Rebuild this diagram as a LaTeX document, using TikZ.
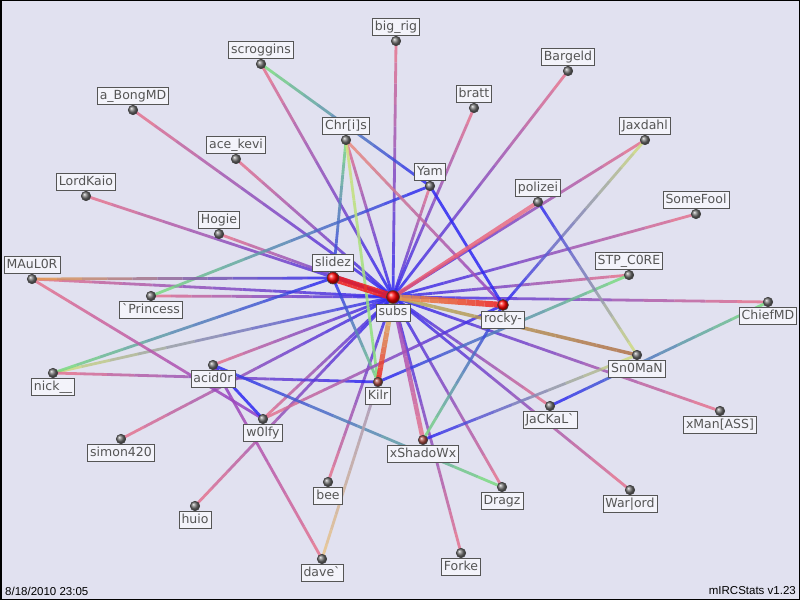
\documentclass[tikz,border=0pt]{standalone}
\usepackage{fontspec}
\setmainfont{DejaVu Sans}
\newfontfamily\piedfont{Liberation Sans}
\usetikzlibrary{calc,positioning}

\definecolor{fond}{HTML}{E1E1F0}
\definecolor{rose}{HTML}{E8758C}
\definecolor{bleu}{HTML}{2E28F2}
\definecolor{violet}{HTML}{8A3CC8}
\definecolor{vert}{HTML}{7DE07D}
\definecolor{jaune}{HTML}{D4E07C}
\definecolor{rouge}{HTML}{EE1C1C}
\definecolor{orangec}{HTML}{E8A050}
\definecolor{saumon}{HTML}{EC8C7C}
\definecolor{brun}{HTML}{B07048}
\definecolor{peche}{HTML}{EAC58A}
\definecolor{mauve}{HTML}{A090B8}
\definecolor{olive}{HTML}{B8B060}
\definecolor{roserouge}{HTML}{EC5068}
\definecolor{brique}{HTML}{A84A42}
\definecolor{gristxt}{HTML}{555555}
\definecolor{cadre}{HTML}{F3F3FA}

% lien en degrade : [epaisseur]{de}{vers}{couleur de}{couleur vers}
\newcommand{\lien}[5][2.8pt]{%
  \foreach \k in {0,...,11}{%
    \pgfmathtruncatemacro{\pc}{round(100-(\k+0.5)*100/12)}%
    \draw[line width=#1, draw opacity=.85, color=#4!\pc!#5]
      ($(#2)!\k/12!(#3)$) -- ($(#2)!{(\k+1)/12}!(#3)$);
  }}

\begin{document}
\begin{tikzpicture}[x=1pt, y=1pt,
    etiq/.style={draw=gristxt, line width=0.8pt, fill=cadre, text=gristxt,
      font=\fontsize{12.5}{13}\selectfont, inner xsep=2.5pt, inner ysep=2.2pt,
      text height=9.5pt, text depth=3pt},
    gris/.style={circle, draw=black!75, line width=0.6pt, ball color=black!55,
      inner sep=0pt, minimum size=9.5pt, label distance=4.5pt},
    chef/.style={gris, ball color=red, minimum size=12pt, label distance=3.5pt},
    brunpt/.style={gris, ball color=brique},
    pied/.style={font=\piedfont\fontsize{11.5}{12}\selectfont, inner sep=0pt}]

        % Fond et cadre
        \fill[fond] (0,0) rectangle (800,600);
        \draw[line width=1.5pt] (0.75,0.75) rectangle (799.25,599.25);
        \useasboundingbox (0,0) rectangle (800,600);

        % Positions
        \coordinate (big_rig) at (396,559);
        \coordinate (scroggins) at (261,536);
        \coordinate (a_BongMD) at (133,490);
        \coordinate (ace_kevi) at (236,441);
        \coordinate (LordKaio) at (86,404);
        \coordinate (Hogie) at (219,366);
        \coordinate (MAuL0R) at (32,321);
        \coordinate (Princess) at (151,304);
        \coordinate (nick) at (53,227);
        \coordinate (acid0r) at (213,235);
        \coordinate (w0lfy) at (263,181);
        \coordinate (simon420) at (121,161);
        \coordinate (huio) at (195,94);
        \coordinate (bee) at (328,118);
        \coordinate (dave) at (322,41);
        \coordinate (Forke) at (461,47);
        \coordinate (Dragz) at (502,113);
        \coordinate (Warlord) at (630,110);
        \coordinate (xMan) at (720,189);
        \coordinate (JaCKaL) at (550,194);
        \coordinate (Sn0MaN) at (637,245);
        \coordinate (ChiefMD) at (768,298);
        \coordinate (STP_C0RE) at (629,325);
        \coordinate (SomeFool) at (696,386);
        \coordinate (polizei) at (538,398);
        \coordinate (Jaxdahl) at (645,460);
        \coordinate (Bargeld) at (568,529);
        \coordinate (bratt) at (474,492);
        \coordinate (Yam) at (430,414);
        \coordinate (Chris) at (346,460);
        \coordinate (slidez) at (333,322);
        \coordinate (subs) at (393,303);
        \coordinate (rocky) at (503,295);
        \coordinate (Kilr) at (378,218);
        \coordinate (xShadoWx) at (423,160);

        % Liens vers subs
        \lien{big_rig}{subs}{rose}{bleu}
        \lien{scroggins}{subs}{rose}{bleu}
        \lien{a_BongMD}{subs}{rose}{bleu}
        \lien{ace_kevi}{subs}{rose}{bleu}
        \lien{LordKaio}{subs}{rose}{bleu}
        \lien{Hogie}{subs}{rose}{bleu}
        \lien{MAuL0R}{subs}{rose}{bleu}
        \lien{Princess}{subs}{rose}{bleu}
        \lien{nick}{subs}{jaune}{bleu}
        \lien{acid0r}{subs}{rose}{bleu}
        \lien{w0lfy}{subs}{rose}{bleu}
        \lien{simon420}{subs}{rose}{bleu}
        \lien{huio}{subs}{rose}{bleu}
        \lien{bee}{subs}{rose}{bleu}
        \lien{Forke}{subs}{rose}{bleu}
        \lien{Dragz}{subs}{rose}{bleu}
        \lien{Warlord}{subs}{rose}{bleu}
        \lien{xMan}{subs}{rose}{bleu}
        \lien{JaCKaL}{subs}{rose}{bleu}
        \lien{ChiefMD}{subs}{rose}{bleu}
        \lien{STP_C0RE}{subs}{rose}{bleu}
        \lien{SomeFool}{subs}{rose}{bleu}
        \lien{Jaxdahl}{subs}{rose}{bleu}
        \lien{Bargeld}{subs}{rose}{bleu}
        \lien{bratt}{subs}{rose}{bleu}
        \lien{Yam}{subs}{rose}{bleu}
        \lien{Chris}{subs}{rose}{bleu}

        % Autres liens
        \lien{scroggins}{Yam}{vert}{bleu}
        \lien{Princess}{Yam}{vert}{bleu}
        \lien{nick}{slidez}{vert}{bleu}
        \lien{nick}{Kilr}{rose}{bleu}
        \lien{MAuL0R}{slidez}{orangec}{bleu}
        \lien{MAuL0R}{w0lfy}{rose}{violet}
        \lien{Chris}{slidez}{vert}{bleu}
        \lien{Chris}{Kilr}{jaune}{vert}
        \lien{Chris}{rocky}{saumon}{violet}
        \lien{slidez}{Kilr}{bleu}{vert}
        \lien{STP_C0RE}{Kilr}{vert}{bleu}
        \lien{Yam}{rocky}{bleu}{bleu}
        \lien{Jaxdahl}{rocky}{jaune}{bleu}
        \lien{xShadoWx}{rocky}{vert}{bleu}
        \lien{w0lfy}{rocky}{rose}{bleu}
        \lien{acid0r}{w0lfy}{bleu}{bleu}
        \lien{acid0r}{Dragz}{bleu}{vert}
        \lien{acid0r}{dave}{violet}{rose}
        \lien{dave}{Kilr}{peche}{mauve}
        \lien{polizei}{Sn0MaN}{bleu}{jaune}
        \lien{xShadoWx}{Sn0MaN}{bleu}{jaune}
        \lien{ChiefMD}{JaCKaL}{vert}{bleu}

        % Liens forts
        \lien[3.5pt]{Sn0MaN}{subs}{brun}{olive}
        \lien[4pt]{polizei}{subs}{rose}{roserouge}
        \lien[4.5pt]{xShadoWx}{subs}{rose}{violet}
        \lien[5pt]{Kilr}{subs}{rouge}{jaune}
        \lien[6pt]{rocky}{subs}{rouge}{orangec}
        \lien[7.5pt]{slidez}{subs}{rouge}{rouge}

        % Membres
        \node[gris, label={[etiq]above:big\_rig}] (p_big_rig) at (big_rig) {};
        \node[gris, label={[etiq]above:scroggins}] (p_scroggins) at (scroggins) {};
        \node[gris, label={[etiq]above:a\_BongMD}] (p_a_BongMD) at (a_BongMD) {};
        \node[gris, label={[etiq]above:ace\_kevi}] (p_ace_kevi) at (ace_kevi) {};
        \node[gris, label={[etiq]above:LordKaio}] (p_LordKaio) at (LordKaio) {};
        \node[gris, label={[etiq]above:Hogie}] (p_Hogie) at (Hogie) {};
        \node[gris, label={[etiq]above:MAuL0R}] (p_MAuL0R) at (MAuL0R) {};
        \node[gris, label={[etiq]below:{\textasciigrave Princess}}] (p_Princess) at (Princess) {};
        \node[gris, label={[etiq]below:nick\_\_}] (p_nick) at (nick) {};
        \node[gris, label={[etiq]below:acid0r}] (p_acid0r) at (acid0r) {};
        \node[gris, label={[etiq]below:w0lfy}] (p_w0lfy) at (w0lfy) {};
        \node[gris, label={[etiq]below:simon420}] (p_simon420) at (simon420) {};
        \node[gris, label={[etiq]below:huio}] (p_huio) at (huio) {};
        \node[gris, label={[etiq]below:bee}] (p_bee) at (bee) {};
        \node[gris, label={[etiq]below:{dave\textasciigrave}}] (p_dave) at (dave) {};
        \node[gris, label={[etiq]below:Forke}] (p_Forke) at (Forke) {};
        \node[gris, label={[etiq]below:Dragz}] (p_Dragz) at (Dragz) {};
        \node[gris, label={[etiq]below:{War|ord}}] (p_Warlord) at (Warlord) {};
        \node[gris, label={[etiq]below:{xMan[ASS]}}] (p_xMan) at (xMan) {};
        \node[gris, label={[etiq]below:{JaCKaL\textasciigrave}}] (p_JaCKaL) at (JaCKaL) {};
        \node[gris, label={[etiq]below:Sn0MaN}] (p_Sn0MaN) at (Sn0MaN) {};
        \node[gris, label={[etiq]below:ChiefMD}] (p_ChiefMD) at (ChiefMD) {};
        \node[gris, label={[etiq]above:STP\_C0RE}] (p_STP_C0RE) at (STP_C0RE) {};
        \node[gris, label={[etiq]above:SomeFool}] (p_SomeFool) at (SomeFool) {};
        \node[gris, label={[etiq]above:polizei}] (p_polizei) at (polizei) {};
        \node[gris, label={[etiq]above:Jaxdahl}] (p_Jaxdahl) at (Jaxdahl) {};
        \node[gris, label={[etiq]above:Bargeld}] (p_Bargeld) at (Bargeld) {};
        \node[gris, label={[etiq]above:bratt}] (p_bratt) at (bratt) {};
        \node[gris, label={[etiq]above:Yam}] (p_Yam) at (Yam) {};
        \node[gris, label={[etiq]above:{Chr[i]s}}] (p_Chris) at (Chris) {};
        \node[brunpt, label={[etiq]below:Kilr}] (p_Kilr) at (Kilr) {};
        \node[brunpt, label={[etiq]below:xShadoWx}] (p_xShadoWx) at (xShadoWx) {};
        \node[chef, minimum size=11pt, label={[etiq]below:rocky-}] (p_rocky) at (rocky) {};
        \node[chef, label={[etiq]above:slidez}] (p_slidez) at (slidez) {};
        \node[chef, minimum size=13pt, label={[etiq]below:subs}] (p_subs) at (subs) {};

        % Pied de page
        \node[pied, anchor=west] (date) at (5,9) {8/18/2010 23:05};
        \node[pied, anchor=east] (version) at (796,9) {mIRCStats v1.23};
\end{tikzpicture}
\end{document}
